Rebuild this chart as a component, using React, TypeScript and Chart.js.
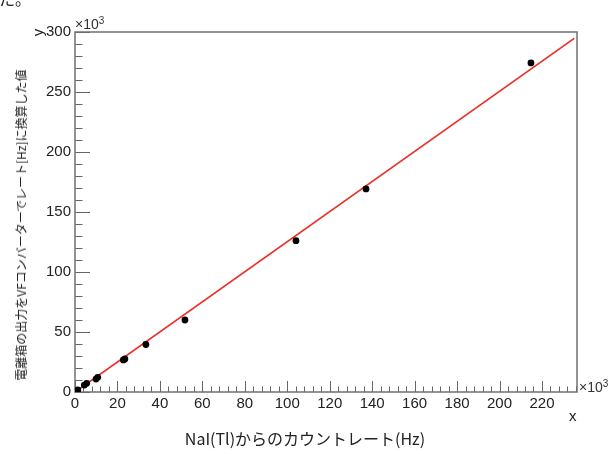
import { useEffect, useRef } from "react";
import { Chart, registerables } from "chart.js";

Chart.register(...registerables);

// Data in units of 10^3 Hz
const xValues = [0.5, 1.3, 4.4, 5.5, 9.9, 10.7, 22.8, 23.5, 33.4, 51.8, 104.1, 137.1, 214.8];
const yValues = [0.8, 1.7, 5.8, 7.25, 10.8, 12.25, 26.7, 27.5, 39.6, 60.0, 126.1, 169.2, 274.2];
// Fitted straight line end points
const fitX = [0, 235.2];
const fitY = [0, 294.7];

const xRange = [0, 236.5];
const yRange = [0, 300];
const xTickValues = [0, 20, 40, 60, 80, 100, 120, 140, 160, 180, 200, 220];
const yTickValues = [0, 50, 100, 150, 200, 250, 300];
const xMinorStep = 4;
const yMinorStep = 10;

const xTitle = "NaI(Tl)からのカウントレート(Hz)";
const yTitle = "電離箱の出力をVFコンバーターでレート[Hz]に換算した値";

const frameTicks = {
  id: "frameTicks",
  beforeDatasetsDraw(chart: any) {
    const { ctx, chartArea: a, scales } = chart;
    const x = scales.x;
    const y = scales.y;
    ctx.save();
    ctx.strokeStyle = "#666";
    ctx.lineWidth = 1;
    ctx.beginPath();
    const nx = Math.floor((x.max - x.min) / xMinorStep + 1e-9);
    for (let i = 0; i <= nx; i++) {
      const v = x.min + i * xMinorStep;
      const px = Math.round(x.getPixelForValue(v)) + 0.5;
      const len = xTickValues.includes(v) ? 11 : 5.5;
      ctx.moveTo(px, a.bottom);
      ctx.lineTo(px, a.bottom - len);
    }
    const ny = Math.floor((y.max - y.min) / yMinorStep + 1e-9);
    for (let i = 0; i <= ny; i++) {
      const v = y.min + i * yMinorStep;
      const py = Math.round(y.getPixelForValue(v)) + 0.5;
      const len = yTickValues.includes(v) ? 15 : 7.5;
      ctx.moveTo(a.left, py);
      ctx.lineTo(a.left + len, py);
    }
    ctx.stroke();
    ctx.lineWidth = 1.5;
    ctx.strokeStyle = "#707070";
    ctx.strokeRect(a.left, a.top, a.right - a.left, a.bottom - a.top);
    ctx.restore();
  },
};

export default function App() {
  const canvasRef = useRef<HTMLCanvasElement | null>(null);

  useEffect(() => {
    if (!canvasRef.current) return;
    const labelFont = { family: "'Liberation Sans', Arial, sans-serif", size: 15 };
    const chart = new Chart(canvasRef.current, {
      type: "scatter",
      data: {
        datasets: [
          {
            type: "scatter",
            data: xValues.map((x, i) => ({ x, y: yValues[i] })),
            backgroundColor: "#000",
            borderWidth: 0,
            pointRadius: 3.4,
            order: 0,
          },
          {
            type: "line",
            data: fitX.map((x, i) => ({ x, y: fitY[i] })),
            borderColor: "#e8322b",
            borderWidth: 1.8,
            pointRadius: 0,
            fill: false,
            order: 1,
          } as any,
        ],
      },
      options: {
        responsive: false,
        animation: false,
        devicePixelRatio: 1,
        layout: { padding: { left: 0, right: 33, top: 32, bottom: 0 } },
        plugins: { legend: { display: false }, tooltip: { enabled: false } },
        scales: {
          x: {
            type: "linear",
            min: xRange[0],
            max: xRange[1],
            grid: { display: false, drawTicks: false },
            border: { display: false },
            ticks: {
              autoSkip: false,
              maxRotation: 0,
              padding: 3,
              color: "#222",
              font: labelFont,
              callback: (v: any) => String(v),
            },
            afterBuildTicks: (s: any) => {
              s.ticks = xTickValues.map((v) => ({ value: v }));
            },
            afterFit: (s: any) => {
              s.height = 62;
            },
          },
          y: {
            type: "linear",
            min: yRange[0],
            max: yRange[1],
            grid: { display: false, drawTicks: false },
            border: { display: false },
            ticks: {
              autoSkip: false,
              padding: 4,
              color: "#222",
              font: labelFont,
              callback: (v: any) => String(v),
            },
            afterBuildTicks: (s: any) => {
              s.ticks = yTickValues.map((v) => ({ value: v }));
            },
            afterFit: (s: any) => {
              s.width = 75;
            },
          },
        },
      },
      plugins: [frameTicks],
    });
    return () => chart.destroy();
  }, []);

  const sans = "'Liberation Sans', Arial, sans-serif";
  const cjk = "'Noto Sans CJK JP', sans-serif";
  return (
    <div style={{ position: "absolute", left: 0, top: 0, width: 610, height: 454, overflow: "hidden", background: "#fff" }}>
      <canvas ref={canvasRef} width={610} height={454} style={{ position: "absolute", left: 0, top: 0 }} />
      <div style={{ position: "absolute", left: -1, top: -14, fontFamily: cjk, fontSize: 16, color: "#222" }}>た。</div>
      <div style={{ position: "absolute", left: 75, top: 16, fontFamily: sans, fontSize: 14, color: "#333", lineHeight: 1 }}>
        ×10<sup style={{ fontSize: 10, verticalAlign: "5px" }}>3</sup>
      </div>
      <div style={{ position: "absolute", left: 579, top: 379, fontFamily: sans, fontSize: 14, color: "#333", lineHeight: 1 }}>
        ×10<sup style={{ fontSize: 10, verticalAlign: "5px" }}>3</sup>
      </div>
      <div style={{ position: "absolute", left: 34, top: 25, fontFamily: sans, fontSize: 15, color: "#222", lineHeight: 1, transform: "rotate(-90deg)", transformOrigin: "center" }}>y</div>
      <div style={{ position: "absolute", left: 569, top: 408, fontFamily: sans, fontSize: 15, color: "#222", lineHeight: 1 }}>x</div>
      <div style={{ position: "absolute", left: 0, width: 610, top: 430, textAlign: "center", fontFamily: cjk, fontSize: 16, color: "#222", lineHeight: 1, whiteSpace: "nowrap" }}>{xTitle}</div>
      <div style={{ position: "absolute", left: 21, top: 225, fontFamily: cjk, fontSize: 12, color: "#222", lineHeight: 1, whiteSpace: "nowrap", transform: "translate(-50%, -50%) rotate(-90deg)" }}>{yTitle}</div>
    </div>
  );
}
